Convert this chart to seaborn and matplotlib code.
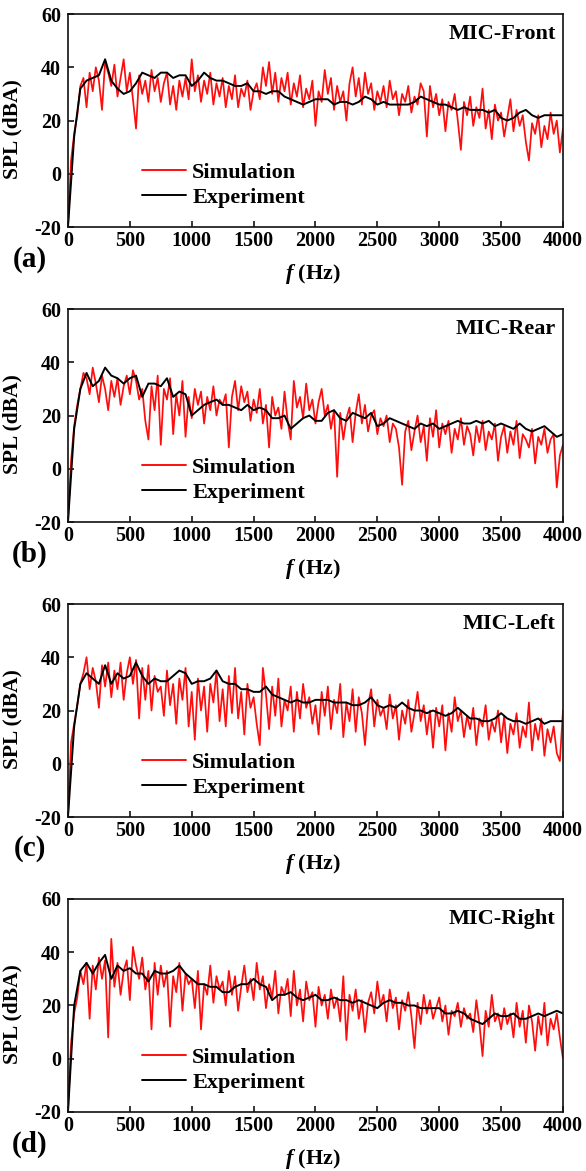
import numpy as np
import pandas as pd
import matplotlib
matplotlib.use("Agg")
import matplotlib.pyplot as plt
import seaborn as sns

# ---------------- data ----------------
panel_titles = ["MIC-Front", "MIC-Rear", "MIC-Left", "MIC-Right"]
panel_tags = ["(a)", "(b)", "(c)", "(d)"]
x_ticks = [0, 500, 1000, 1500, 2000, 2500, 3000, 3500, 4000]
y_ticks = [-20, 0, 20, 40, 60]

sim_freq = np.arange(0, 4001, 25)   # Hz
exp_freq = np.arange(0, 4001, 50)   # Hz

sim_front = [
    -20, 5, 15, 22, 33, 36, 25, 38, 31, 40,
    35, 24, 42, 38, 33, 41, 29, 36, 43, 31,
    38, 28, 17, 37, 30, 35, 27, 39, 31, 36,
    27, 34, 38, 26, 33, 24, 35, 29, 36, 28,
    43, 31, 37, 27, 35, 30, 38, 26, 34, 29,
    36, 25, 33, 28, 37, 25, 32, 29, 35, 24,
    31, 34, 28, 40, 33, 42, 30, 38, 27, 36,
    31, 38, 26, 34, 29, 37, 25, 32, 28, 35,
    18, 31, 27, 39, 30, 36, 24, 33, 27, 31,
    20, 34, 40, 29, 36, 26, 38, 30, 34, 24,
    31, 27, 33, 25, 35, 28, 31, 22, 30, 27,
    33, 23, 29, 26, 34, 31, 14, 33, 25, 30,
    22, 28, 16, 27, 24, 30, 20, 9, 27, 22,
    29, 18, 25, 21, 32, 17, 24, 13, 26, 20,
    23, 14, 21, 28, 16, 24, 18, 22, 12, 5,
    19, 15, 22, 10, 18, 13, 23, 15, 20, 8,
    17,
]
exp_front = [
    -20, 14, 32, 35, 36, 37, 43, 35, 32, 30,
    31, 34, 38, 37, 36, 38, 38, 36, 37, 37,
    33, 35, 38, 36, 35, 35, 34, 33, 33, 34,
    31, 31, 30, 31, 31, 29, 28, 27, 26, 27,
    28, 28, 28, 26, 27, 27, 26, 27, 29, 28,
    26, 27, 26, 26, 26, 26, 27, 29, 28, 27,
    26, 26, 25, 24, 25, 24, 24, 24, 23, 24,
    21, 20, 21, 23, 24, 22, 21, 22, 22, 22,
    22,
]

sim_rear = [
    -20, 3, 16, 24, 30, 36, 34, 28, 38, 32,
    25, 35, 30, 22, 33, 27, 34, 24, 31, 35,
    28, 37, 33, 26, 30, 18, 11, 31, 22, 35,
    9, 30, 26, 34, 13, 28, 20, 33, 12, 27,
    19, 30, 24, 29, 17, 27, 22, 31, 20, 26,
    24, 28, 8, 27, 33, 22, 31, 25, 29, 18,
    26, 21, 30, 17, 24, 8, 27, 20, 23, 15,
    29, 18, 11, 33, 23, 27, 19, 32, 22, 26,
    17, 25, 30, 20, 24, 15, 22, -3, 21, 11,
    19, 23, 10, 21, 28, 17, 24, 14, 20, 22,
    13, 19, 16, 20, 10, 17, 15, 8, -6, 14,
    18, 7, 14, 20, 10, 16, 3, 19, 12, 22,
    8, 17, 13, 18, 6, 15, 11, 19, 9, 16,
    13, 5, 16, 10, 18, 7, 14, 11, 17, 3,
    12, 16, 6, 14, 9, 18, 4, 13, 11, 8,
    15, 2, 12, 9, 15, 6, 11, 13, -7, 5,
    9,
]
exp_rear = [
    -20, 15, 30, 36, 31, 33, 38, 35, 34, 32,
    34, 35, 27, 32, 32, 31, 34, 27, 29, 28,
    20, 22, 24, 25, 26, 24, 24, 23, 22, 24,
    22, 23, 22, 19, 19, 20, 15, 17, 19, 20,
    18, 18, 21, 22, 19, 18, 21, 20, 19, 21,
    16, 17, 19, 18, 17, 16, 15, 17, 16, 17,
    15, 16, 17, 18, 17, 17, 18, 17, 18, 16,
    17, 16, 15, 17, 15, 14, 15, 16, 14, 12,
    13,
]

sim_left = [
    -20, 8, 15, 22, 30, 34, 40, 28, 36, 31,
    21, 37, 29, 38, 25, 35, 28, 38, 24, 34,
    40, 30, 39, 17, 36, 24, 37, 20, 33, 27,
    29, 18, 35, 22, 30, 15, 32, 24, 36, 14,
    27, 9, 32, 20, 29, 12, 30, 23, 35, 16,
    28, 14, 33, 19, 36, 17, 27, 11, 30, 21,
    25, 15, 7, 36, 26, 13, 29, 18, 32, 14,
    24, 20, 29, 12, 27, 17, 30, 21, 25, 15,
    22, 11, 27, 18, 29, 13, 24, 19, 30, 10,
    23, 16, 28, 12, 25, 19, 7, 22, 28, 14,
    24, 18, 21, 13, 26, 17, 22, 9, 20, 15,
    24, 12, 19, 27, 16, 22, 11, 20, 6, 21,
    14, 22, 5, 19, 12, 25, 16, 20, 10, 18,
    13, 21, 7, 17, 14, 22, 9, 16, 12, 20,
    8, 18, 4, 15, 11, 19, 6, 14, 10, 23,
    5, 15, 9, 17, 3, 13, 8, 14, 4, 1,
    20,
]
exp_left = [
    -20, 14, 30, 34, 32, 30, 37, 30, 34, 32,
    33, 38, 33, 30, 32, 31, 31, 33, 35, 34,
    30, 31, 31, 32, 35, 31, 30, 30, 28, 28,
    27, 27, 29, 26, 25, 24, 23, 24, 23, 23,
    24, 24, 24, 23, 23, 23, 22, 22, 23, 25,
    22, 21, 22, 21, 23, 21, 20, 20, 19, 20,
    19, 18, 19, 21, 19, 17, 17, 16, 16, 17,
    19, 17, 16, 16, 15, 16, 17, 15, 16, 16,
    16,
]

sim_right = [
    -20, 6, 17, 23, 33, 28, 36, 15, 35, 26,
    38, 30, 37, 8, 45, 27, 36, 24, 33, 37,
    22, 42, 35, 30, 38, 26, 33, 11, 36, 24,
    35, 27, 33, 12, 31, 25, 36, 18, 32, 28,
    30, 19, 33, 11, 28, 24, 35, 21, 31, 26,
    29, 20, 33, 24, 31, 18, 27, 35, 25, 30,
    22, 36, 26, 31, 19, 28, 23, 33, 17, 27,
    24, 30, 16, 33, 20, 26, 14, 29, 22, 25,
    12, 27, 20, 24, 15, 26, 19, 23, 14, 31,
    7, 24, 18, 26, 15, 22, 10, 21, 25, 17,
    29, 20, 24, 14, 26, 19, 23, 11, 22, 18,
    25, 16, 4, 21, 13, 24, 17, 22, 15, 19,
    23, 14, 20, 9, 18, 16, 21, 12, 19, 15,
    17, 10, 22, 13, 1, 18, 12, 24, 14, 17,
    11, 19, 13, 17, 8, 21, 12, 18, 6, 20,
    14, 3, 16, 9, 21, 5, 15, 11, 17, 8,
    0,
]
exp_right = [
    -20, 20, 33, 36, 32, 36, 39, 30, 35, 33,
    34, 32, 32, 29, 33, 32, 32, 33, 35, 32,
    30, 28, 28, 27, 27, 25, 25, 27, 28, 28,
    30, 28, 27, 22, 24, 24, 25, 23, 22, 23,
    24, 22, 22, 23, 22, 22, 21, 22, 21, 20,
    19, 21, 22, 21, 21, 20, 20, 19, 19, 19,
    19, 17, 17, 18, 17, 15, 14, 13, 15, 17,
    16, 16, 17, 15, 15, 16, 17, 16, 17, 18,
    17,
]

sim_series = [sim_front, sim_rear, sim_left, sim_right]
exp_series = [exp_front, exp_rear, exp_left, exp_right]

# ---------------- style ----------------
sns.set_theme(style="ticks")
plt.rcParams["font.family"] = ["Liberation Serif", "DejaVu Serif"]
plt.rcParams["font.weight"] = "bold"
plt.rcParams["axes.labelweight"] = "bold"
plt.rcParams["axes.unicode_minus"] = False
plt.rcParams["text.color"] = "black"
plt.rcParams["axes.labelcolor"] = "black"
plt.rcParams["xtick.color"] = "black"
plt.rcParams["ytick.color"] = "black"
plt.rcParams["mathtext.fontset"] = "custom"
plt.rcParams["mathtext.rm"] = "Liberation Serif:bold"
plt.rcParams["mathtext.it"] = "Liberation Serif:italic:bold"
plt.rcParams["mathtext.bf"] = "Liberation Serif:bold"

fig = plt.figure(figsize=(5.86, 11.71), dpi=100)
left, width, height = 0.1160, 0.8447, 0.1819
bottoms = [0.8061, 0.5542, 0.3023, 0.0504]

for i in range(4):
    ax = fig.add_axes([left, bottoms[i], width, height])
    df_sim = pd.DataFrame({"f": sim_freq, "SPL": sim_series[i]})
    df_exp = pd.DataFrame({"f": exp_freq, "SPL": exp_series[i]})
    sns.lineplot(data=df_sim, x="f", y="SPL", ax=ax, color="#ff0d0d",
                 linewidth=1.25, estimator=None, sort=False, label="Simulation")
    sns.lineplot(data=df_exp, x="f", y="SPL", ax=ax, color="black",
                 linewidth=1.4, estimator=None, sort=False, label="Experiment")
    ax.set_xlim(0, 4000)
    ax.set_ylim(-20, 60)
    ax.set_xticks(x_ticks)
    ax.set_yticks(y_ticks)
    ax.tick_params(direction="in", length=4, width=1.1, labelsize=14.5,
                   top=False, right=False, colors="black")
    ax.tick_params(axis="x", pad=3)
    ax.tick_params(axis="y", pad=5)
    for lab in ax.get_xticklabels() + ax.get_yticklabels():
        lab.set_fontweight("bold")
    for sp in ax.spines.values():
        sp.set_linewidth(1.2)
        sp.set_color("#111111")
        sp.set_visible(True)

    ax.set_ylabel("SPL (dBA)", fontsize=15.5, fontweight="bold")
    ax.yaxis.set_label_coords(-0.092, 0.46)
    ax.set_xlabel(r"$f$ (Hz)", fontsize=16, fontweight="bold")
    ax.xaxis.set_label_coords(0.495, -0.165)

    ax.text(0.985, 0.905, panel_titles[i], transform=ax.transAxes,
            ha="right", va="center", fontsize=16, fontweight="bold")
    ax.text(-0.077, -0.15, panel_tags[i], transform=ax.transAxes,
            ha="center", va="center", fontsize=21, fontweight="bold")

    leg = ax.legend(loc="upper left", bbox_to_anchor=(0.15, 0.305),
                    frameon=False, fontsize=16, borderaxespad=0, borderpad=0,
                    handlelength=1.95, handletextpad=0.3, labelspacing=0.2)
    for t in leg.get_texts():
        t.set_fontweight("bold")
        t.set_color("black")
    for h in leg.get_lines():
        h.set_linewidth(1.4)

fig.savefig("out.png", dpi=100)
